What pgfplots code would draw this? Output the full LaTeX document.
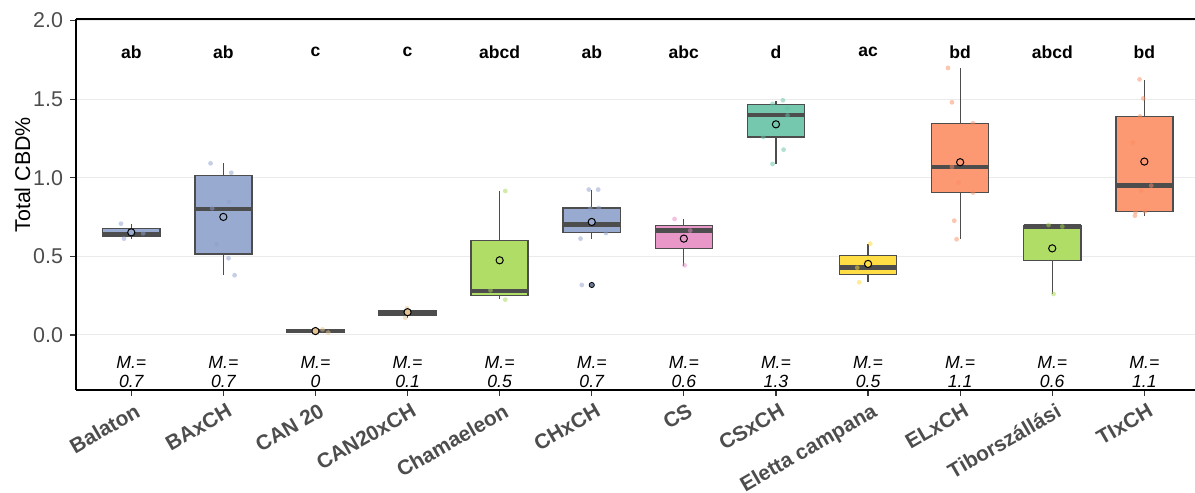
\documentclass[border=0pt]{standalone}
\usepackage{fontspec}
\setmainfont{Liberation Sans}
\usepackage{pgfplots}
\pgfplotsset{compat=1.18}
\usepgfplotslibrary{statistics}

\definecolor{gray30}{HTML}{4D4D4D}
\definecolor{gridc}{HTML}{EBEBEB}
\definecolor{fBlue}{HTML}{98AAD0}
\definecolor{fTan}{HTML}{E8CA9F}
\definecolor{fGreen}{HTML}{AFDD65}
\definecolor{fPink}{HTML}{E996C9}
\definecolor{fTeal}{HTML}{75C8AE}
\definecolor{fYellow}{HTML}{FFDD44}
\definecolor{fOrange}{HTML}{FC9872}
\definecolor{pBlue}{HTML}{8DA0CB}
\definecolor{pTan}{HTML}{E5C494}
\definecolor{pGreen}{HTML}{A6D854}
\definecolor{pPink}{HTML}{E78AC3}
\definecolor{pTeal}{HTML}{66C2A5}
\definecolor{pYellow}{HTML}{FFD92F}
\definecolor{pOrange}{HTML}{FC8D62}

% box: position, lower whisker, lower quartile, median, upper quartile, upper whisker, fill
\newcommand{\bx}[7]{\addplot[boxplot prepared={draw position=#1, lower whisker=#2, lower quartile=#3, median=#4, upper quartile=#5, upper whisker=#6}, draw=gray30, fill=#7, line width=0.75bp] coordinates {};}
\newcommand{\jit}[2]{\addplot[only marks, draw=none, mark=*, mark size=1.2bp, mark options={draw=none, draw opacity=0, fill=#1, fill opacity=0.5}] coordinates {#2};}
\newcommand{\mn}[3]{\addplot[only marks, mark=*, mark size=1.8bp, mark options={draw=black, fill=#1, line width=0.5bp}] coordinates {(#2,#3)};}

\begin{document}
\begin{tikzpicture}
\begin{axis}[
  name=ax,
  scale only axis,
  width=559.5bp, height=185.5bp,
  xmin=0.4, xmax=12.55,
  ymin=-0.35, ymax=2.01,
  clip=false,
  axis lines*=left,
  axis line style={line width=0.9bp, black},
  tick align=outside,
  major tick length=3bp,
  tick style={line width=0.6bp, color=black!80},
  ytick={0,0.5,1,1.5,2},
  yticklabels={0.0,0.5,1.0,1.5,2.0},
  yticklabel style={font=\fontsize{10.75}{12}\selectfont, text=gray30},
  xtick={1,2,3,4,5,6,7,8,9,10,11,12},
  xticklabels={Balaton, BAxCH, CAN 20, CAN20xCH, Chamaeleon, CHxCH, CS, CSxCH, Eletta campana, ELxCH, Tiborszállási, TIxCH},
  xticklabel style={rotate=30, anchor=north east, font=\bfseries\fontsize{10.5}{12}\selectfont, text=gray30, xshift=3bp},
  ymajorgrids,
  major grid style={color=gridc, line width=0.5bp},
  boxplot/draw direction=y,
  boxplot/box extend=0.62,
  boxplot/whisker extend=0,
  boxplot/every median/.style={line width=2.2bp, draw=gray30},
  boxplot/every whisker/.style={line width=0.6bp, draw=gray30},
]
% boxes
\bx{1}{0.613}{0.627}{0.640}{0.676}{0.705}{fBlue}
\bx{2}{0.380}{0.515}{0.803}{1.013}{1.092}{fBlue}
\bx{3}{0.015}{0.020}{0.026}{0.031}{0.036}{fTan}
\bx{4}{0.110}{0.126}{0.142}{0.156}{0.170}{fTan}
\bx{5}{0.227}{0.252}{0.278}{0.602}{0.916}{fGreen}
\bx{6}{0.613}{0.651}{0.704}{0.808}{0.924}{fBlue}
\bx{7}{0.441}{0.551}{0.664}{0.695}{0.736}{fPink}
\bx{8}{1.088}{1.260}{1.400}{1.465}{1.489}{fTeal}
\bx{9}{0.335}{0.384}{0.428}{0.505}{0.577}{fYellow}
\bx{10}{0.609}{0.907}{1.067}{1.344}{1.696}{fOrange}
\bx{11}{0.261}{0.475}{0.690}{0.695}{0.700}{fGreen}
\bx{12}{0.759}{0.787}{0.950}{1.389}{1.622}{fOrange}
% outlier
\addplot[only marks, mark=*, mark size=1.3bp, mark options={draw=none, fill=pBlue!75!black}] coordinates {(6,0.318)};
% jittered points
\jit{pBlue}{(0.888,0.708) (0.921,0.613) (1.130,0.647)}
\jit{pBlue}{(1.861,1.092) (2.086,1.032) (2.061,0.848) (1.879,0.806) (1.926,0.577) (2.056,0.488) (2.122,0.380)}
\jit{pTan}{(2.987,0.025) (3.077,0.036) (3.139,0.015)}
\jit{pTan}{(3.994,0.170) (3.994,0.142) (3.975,0.110)}
\jit{pGreen}{(5.061,0.916) (4.901,0.284) (5.061,0.225)}
\jit{pBlue}{(5.968,0.925) (6.070,0.925) (5.984,0.803) (6.077,0.808) (5.878,0.613) (6.154,0.649) (5.892,0.318)}
\jit{pPink}{(6.899,0.738) (7.069,0.664) (7.008,0.443)}
\jit{pTeal}{(8.076,1.493) (7.963,1.470) (8.126,1.442) (8.126,1.397) (7.862,1.260) (8.083,1.179) (7.963,1.088)}
\jit{pYellow}{(9.024,0.581) (8.883,0.428) (8.904,0.335)}
\jit{pOrange}{(9.868,1.699) (9.911,1.480) (10.139,1.347) (9.911,1.069) (9.983,0.969) (10.139,0.906) (9.936,0.727) (9.961,0.609)}
\jit{pGreen}{(10.960,0.700) (11.109,0.690) (11.014,0.261)}
\jit{pOrange}{(11.948,1.626) (11.988,1.505) (11.952,1.390) (11.876,1.223) (12.075,0.950) (11.966,0.918) (11.898,0.759) (11.904,0.782) (12.007,0.787)}
% means
\mn{fBlue}{1}{0.653}
\mn{fBlue}{2}{0.751}
\mn{pTan}{3}{0.025}
\mn{pTan}{4}{0.145}
\mn{fGreen}{5}{0.475}
\mn{fBlue}{6}{0.719}
\mn{fPink}{7}{0.613}
\mn{fTeal}{8}{1.340}
\mn{fYellow}{9}{0.452}
\mn{fOrange}{10}{1.099}
\mn{fGreen}{11}{0.551}
\mn{fOrange}{12}{1.103}
% top border
\draw[line width=0.9bp, black] (rel axis cs:0,1) -- (rel axis cs:1,1);
% letters
\begin{scope}[every node/.style={font=\bfseries\fontsize{8.8}{10}\selectfont}]
\node at (axis cs:1,1.8) {ab};
\node at (axis cs:2,1.8) {ab};
\node at (axis cs:3,1.8) {c};
\node at (axis cs:4,1.8) {c};
\node at (axis cs:5,1.8) {abcd};
\node at (axis cs:6,1.8) {ab};
\node at (axis cs:7,1.8) {abc};
\node at (axis cs:8,1.8) {d};
\node at (axis cs:9,1.8) {ac};
\node at (axis cs:10,1.8) {bd};
\node at (axis cs:11,1.8) {abcd};
\node at (axis cs:12,1.8) {bd};
\end{scope}
\begin{scope}[every node/.style={font=\itshape\fontsize{8.85}{9.75}\selectfont, align=center, inner sep=0pt}]
\node at (axis cs:1,-0.236) {M.=\\0.7};
\node at (axis cs:2,-0.236) {M.=\\0.7};
\node at (axis cs:3,-0.236) {M.=\\0};
\node at (axis cs:4,-0.236) {M.=\\0.1};
\node at (axis cs:5,-0.236) {M.=\\0.5};
\node at (axis cs:6,-0.236) {M.=\\0.7};
\node at (axis cs:7,-0.236) {M.=\\0.6};
\node at (axis cs:8,-0.236) {M.=\\1.3};
\node at (axis cs:9,-0.236) {M.=\\0.5};
\node at (axis cs:10,-0.236) {M.=\\1.1};
\node at (axis cs:11,-0.236) {M.=\\0.6};
\node at (axis cs:12,-0.236) {M.=\\1.1};
\end{scope}
\node[rotate=90, font=\fontsize{10.75}{12}\selectfont] at (rel axis cs:-0.0478,0.58) {Total CBD\%};
\end{axis}
\pgfresetboundingbox
\path[use as bounding box] ([xshift=-38bp,yshift=-51.5bp]ax.south west) rectangle ([yshift=9.5bp]ax.north east);
\end{tikzpicture}
\end{document}
